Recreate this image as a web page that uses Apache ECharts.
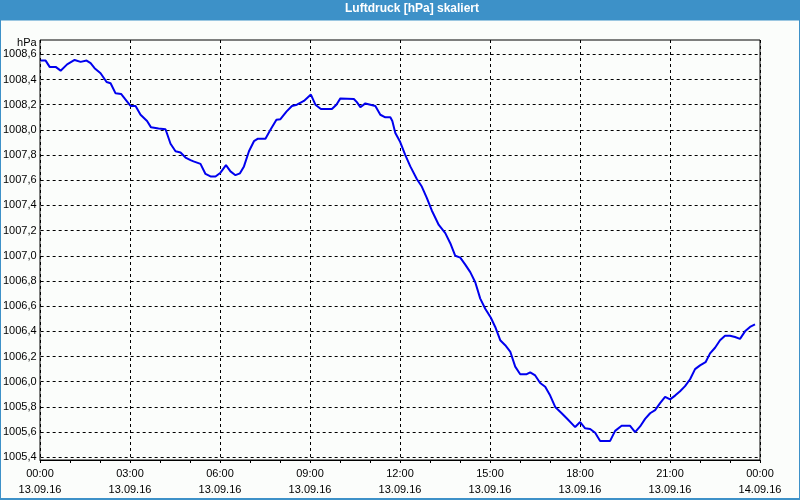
<!DOCTYPE html>
<html>
<head>
<meta charset="utf-8">
<script src="https://cdn.jsdelivr.net/npm/echarts@6/dist/echarts.min.js"></script>
<style>
html,body{margin:0;padding:0;background:#fbfdfb;}
#chart{width:800px;height:500px;}
</style>
</head>
<body>
<div id="chart"></div>
<script>
// Minutes since 13.09.16 00:00
const minutes = [0,10,18,30,40,53,68,80,92,100,108,120,132,140,150,161,170,180,190,200,213,221,236,250,260,270,280,290,300,306,320,330,340,350,360,371,380,390,399,407,417,427,435,450,460,472,480,492,503,513,527,541,550,561,583,592,600,627,633,640,650,670,680,690,700,704,710,719,730,740,753,763,773,783,797,810,820,830,840,850,860,870,880,890,901,910,920,930,940,950,960,973,980,990,1000,1010,1020,1030,1043,1053,1070,1080,1090,1100,1110,1120,1140,1150,1163,1180,1190,1200,1210,1220,1230,1240,1250,1260,1270,1280,1290,1300,1310,1320,1331,1340,1350,1360,1370,1380,1390,1400,1410,1420,1430];
// Pressure in hPa
const pressure = [1008.55,1008.55,1008.50,1008.50,1008.47,1008.52,1008.555,1008.54,1008.55,1008.53,1008.49,1008.45,1008.38,1008.37,1008.29,1008.285,1008.24,1008.19,1008.19,1008.12,1008.07,1008.02,1008.01,1008.005,1007.89,1007.83,1007.82,1007.78,1007.76,1007.75,1007.73,1007.65,1007.63,1007.63,1007.66,1007.72,1007.67,1007.64,1007.655,1007.71,1007.83,1007.91,1007.93,1007.93,1008.0,1008.08,1008.085,1008.145,1008.19,1008.20,1008.23,1008.28,1008.20,1008.165,1008.165,1008.20,1008.25,1008.245,1008.22,1008.18,1008.21,1008.19,1008.12,1008.10,1008.10,1008.07,1007.975,1007.91,1007.80,1007.71,1007.61,1007.55,1007.46,1007.36,1007.245,1007.18,1007.10,1007.0,1006.985,1006.93,1006.87,1006.79,1006.66,1006.58,1006.51,1006.435,1006.33,1006.29,1006.24,1006.12,1006.06,1006.06,1006.075,1006.05,1005.99,1005.96,1005.89,1005.80,1005.75,1005.71,1005.64,1005.68,1005.63,1005.625,1005.595,1005.53,1005.53,1005.61,1005.65,1005.65,1005.60,1005.645,1005.705,1005.75,1005.775,1005.83,1005.88,1005.86,1005.89,1005.925,1005.965,1006.02,1006.10,1006.13,1006.155,1006.225,1006.27,1006.33,1006.365,1006.365,1006.355,1006.34,1006.40,1006.435,1006.455];
const titleText = 'Luftdruck [hPa] skaliert';
const yUnit = 'hPa';
const yMin = 1005.4, yMax = 1008.6, yStep = 0.2;
const xMin = 0, xMax = 1440, xStep = 180;
const dayLabels = ['13.09.16', '14.09.16'];

const FONT = 'Liberation Sans, Arial, sans-serif';
const chart = echarts.init(document.getElementById('chart'), null, {renderer: 'canvas'});

function pad(n){return (n<10?'0':'')+n;}
function xLabel(v){
  const day = Math.floor(v/1440);
  const m = v - day*1440;
  return pad(Math.floor(m/60)) + ':' + pad(m%60) + '\n' + dayLabels[Math.min(day, dayLabels.length-1)];
}

const dashed = {show:true, lineStyle:{color:'#000', width:1, type:[3,3]}};

chart.setOption({
  animation: false,
  backgroundColor: '#fbfdfb',
  title: {
    text: titleText, left: 345, top: 3, padding: 0,
    textStyle: {color:'#fff', fontSize:12, fontWeight:'bold', fontFamily: FONT}
  },
  graphic: [
    {type:'rect', z:-10, shape:{x:0,y:0,width:800,height:20.5}, style:{fill:'#3d91c8'}},
    {type:'rect', z:100, shape:{x:0,y:0,width:800,height:499}, style:{fill:'none', stroke:'#3d91c8', lineWidth:2}}
  ],
  grid: [
    {left:40, right:40, top:54.3, bottom:42.7},
    {left:40, right:40, top:40, bottom:40, show:true, borderColor:'#000', borderWidth:1, backgroundColor:'#fbfdfb'}
  ],
  xAxis: [
    {type:'value', gridIndex:0, min:xMin, max:xMax, show:false},
    {type:'value', gridIndex:1, min:xMin, max:xMax, interval:xStep,
      axisLine:{show:true, onZero:false, lineStyle:{color:'#000', width:1}},
      axisTick:{show:true, inside:false, length:3, lineStyle:{color:'#000'}},
      minorTick:{show:true, splitNumber:3, length:3, lineStyle:{color:'#000'}},
      axisLabel:{show:true, formatter:xLabel, color:'#000', fontSize:11, fontFamily:FONT, lineHeight:16, margin:6, hideOverlap:false, showMinLabel:true, showMaxLabel:true},
      splitLine: dashed
    }
  ],
  yAxis: [
    {type:'value', gridIndex:0, min:yMin, max:yMax, interval:yStep,
      name: yUnit, nameLocation:'end', nameGap:7,
      nameTextStyle:{color:'#000', fontSize:11, fontFamily:FONT, align:'right', verticalAlign:'middle', padding:[0,4,0,0]},
      axisLine:{show:false}, axisTick:{show:false},
      axisLabel:{show:true, color:'#000', fontSize:11, fontFamily:FONT, margin:4, padding:[6,0,0,0],
        formatter: v => v.toFixed(1).replace('.', ',')},
      splitLine: dashed
    },
    {type:'value', gridIndex:1, min:0, max:1, show:false}
  ],
  series: [{
    type:'line', xAxisIndex:0, yAxisIndex:0,
    data: minutes.map((m,i)=>[m, pressure[i]]),
    showSymbol:false, symbol:'none',
    lineStyle:{color:'#0000ee', width:2},
    z: 5
  }]
});
</script>
</body>
</html>
